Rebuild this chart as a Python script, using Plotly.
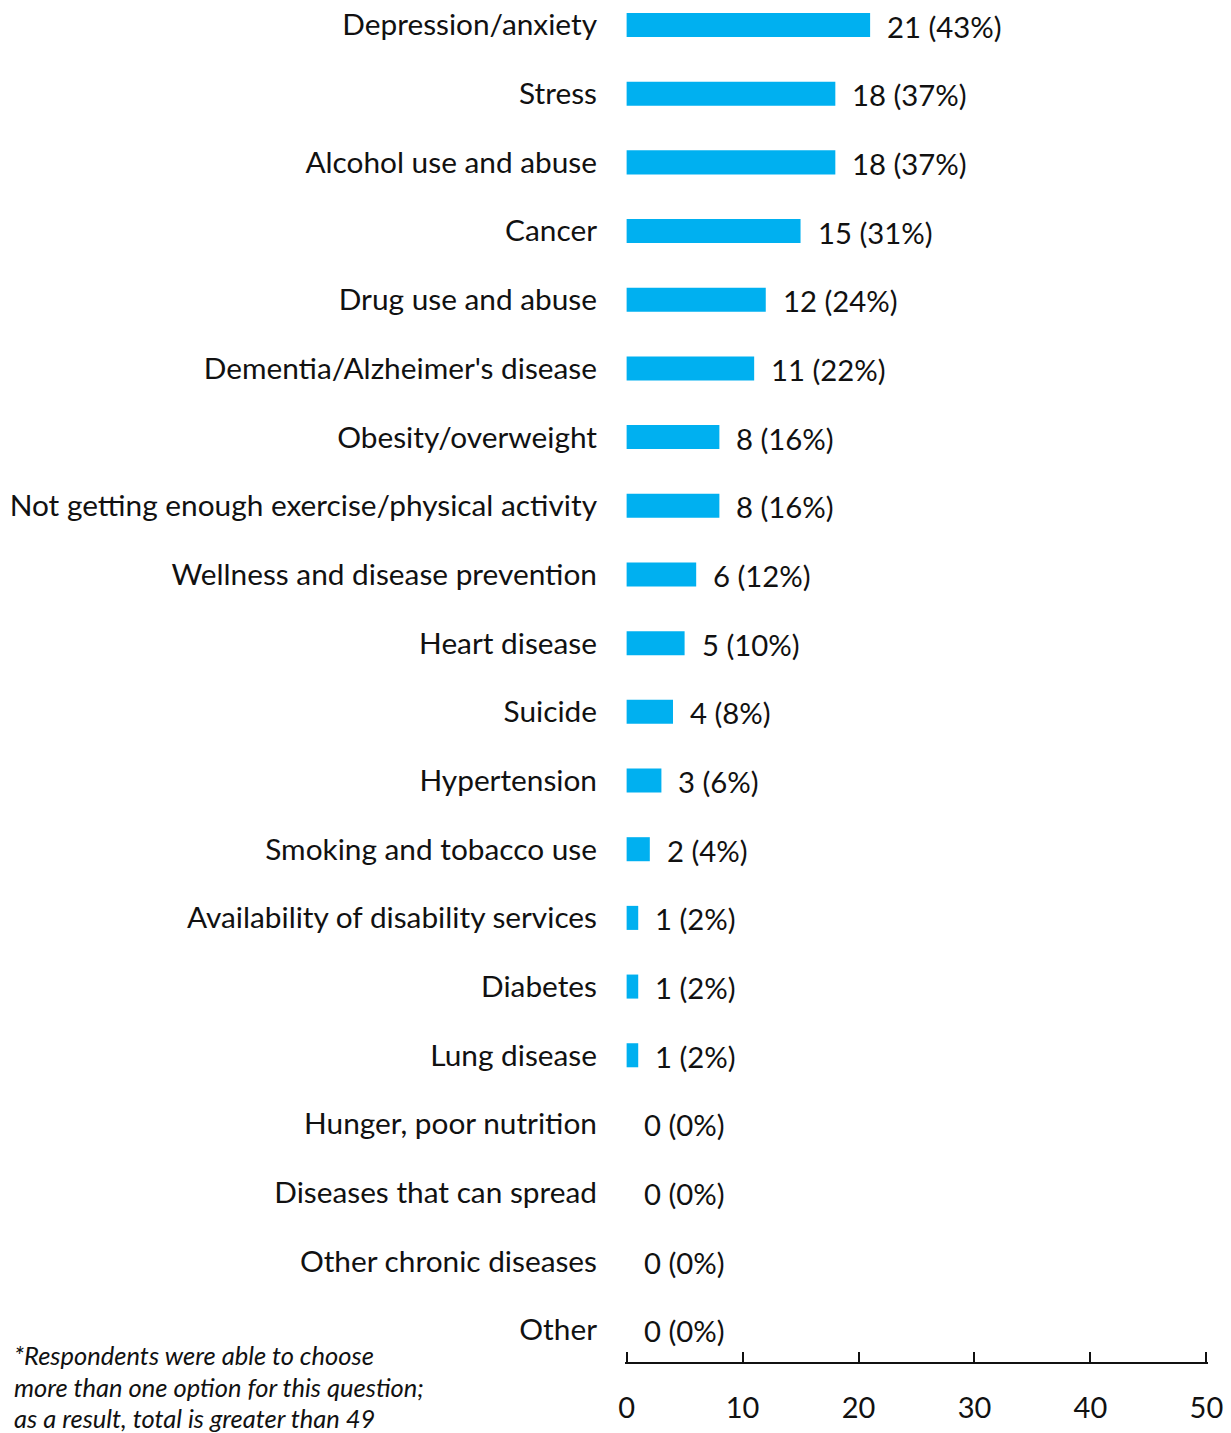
import plotly.graph_objects as go

# Health issues reported, with respondent counts and shares
categories = [
    "Depression/anxiety",
    "Stress",
    "Alcohol use and abuse",
    "Cancer",
    "Drug use and abuse",
    "Dementia/Alzheimer's disease",
    "Obesity/overweight",
    "Not getting enough exercise/physical activity",
    "Wellness and disease prevention",
    "Heart disease",
    "Suicide",
    "Hypertension",
    "Smoking and tobacco use",
    "Availability of disability services",
    "Diabetes",
    "Lung disease",
    "Hunger, poor nutrition",
    "Diseases that can spread",
    "Other chronic diseases",
    "Other",
]
counts = [21, 18, 18, 15, 12, 11, 8, 8, 6, 5, 4, 3, 2, 1, 1, 1, 0, 0, 0, 0]
percents = [43, 37, 37, 31, 24, 22, 16, 16, 12, 10, 8, 6, 4, 2, 2, 2, 0, 0, 0, 0]
x_ticks = [0, 10, 20, 30, 40, 50]
footnote_lines = [
    "*Respondents were able to choose",
    "more than one option for this question;",
    "as a result, total is greater than 49",
]

FONT = "Lato"
BAR_COLOR = "#00B0F0"
PLOT_H = 1362.0   # plot-area height in px
PLOT_L = 625.4    # left margin; x range is padded so 0 sits at 627 px
PLOT_W = 1231 - PLOT_L - 23.4

fig = go.Figure()
fig.add_trace(go.Bar(
    x=counts,
    y=categories,
    orientation="h",
    marker=dict(color=BAR_COLOR, line=dict(width=0)),
    width=0.35,
    hoverinfo="skip",
))

annotations = []
for cat, c, p in zip(categories, counts, percents):
    annotations.append(dict(
        x=c, y=cat, xref="x", yref="y",
        text=f"{c} ({p}%)",
        showarrow=False, xanchor="left", yanchor="middle",
        xshift=15, yshift=-1,
        font=dict(family=FONT, size=29.3, color="#111111"),
    ))

# Footnote below the category labels, one annotation per line
for i, line in enumerate(footnote_lines):
    annotations.append(dict(
        x=(13 - PLOT_L) / PLOT_W, y=(PLOT_H - (1355 + 31.5 * i)) / PLOT_H,
        xref="paper", yref="paper",
        text=f"<i>{line}</i>",
        showarrow=False, xanchor="left", yanchor="middle", align="left",
        font=dict(family=FONT, size=25.5, color="#111111"),
    ))

fig.update_layout(
    width=1231, height=1433,
    margin=dict(l=PLOT_L, r=23.4, t=0, b=71, pad=0),
    paper_bgcolor="white", plot_bgcolor="white",
    showlegend=False,
    annotations=annotations,
)
fig.update_xaxes(
    range=[-0.14, 50.14], tickvals=x_ticks, ticktext=[str(t) for t in x_ticks],
    showgrid=False, zeroline=False,
    showline=True, linecolor="#111111", linewidth=2,
    ticks="inside", ticklen=10, tickwidth=2, tickcolor="#111111",
    ticklabelstandoff=19,
    tickfont=dict(family=FONT, size=29, color="#111111"),
    fixedrange=True, automargin=False,
)
fig.update_yaxes(
    type="category",
    categoryorder="array", categoryarray=categories,
    range=[19.466, -0.364],
    showgrid=False, zeroline=False, showline=False, ticks="",
    ticklabelstandoff=27,
    tickfont=dict(family=FONT, size=29.8, color="#111111"),
    fixedrange=True, automargin=False,
)

fig.write_html("out.html")
